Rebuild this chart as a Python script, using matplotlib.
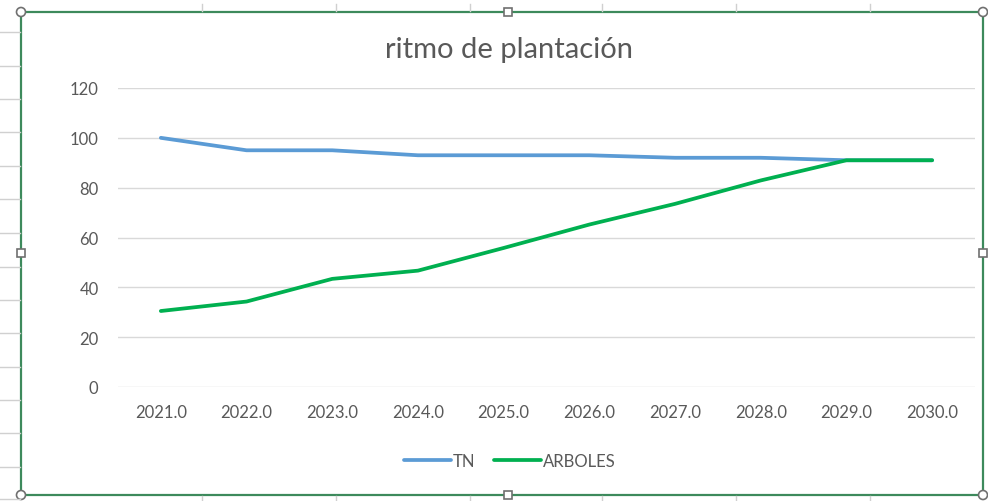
import matplotlib
matplotlib.use("Agg")
import matplotlib.pyplot as plt
from matplotlib.lines import Line2D
from matplotlib.patches import Rectangle, Ellipse

# datos
years = [2021.0, 2022.0, 2023.0, 2024.0, 2025.0, 2026.0, 2027.0, 2028.0, 2029.0, 2030.0]
tn = [100, 95, 95, 93, 93, 93, 92, 92, 91, 91]
arboles = [30.5, 34.3, 43.4, 46.7, 55.8, 65.2, 73.5, 82.9, 91, 91]
yticks = [0, 20, 40, 60, 80, 100, 120]

W, H = 988, 502
plt.rcParams['font.family'] = ['Lato', 'DejaVu Sans']
gray_txt = '#595959'


def px(x, y):
    # pixeles de la imagen -> coordenadas de figura
    return x / W, 1 - y / H


fig = plt.figure(figsize=(W / 100, H / 100), dpi=100)

# lineas de la hoja de calculo detras del grafico
for y in [33, 67, 100, 133, 167, 200, 234, 268, 301, 334, 368, 401, 434, 468, 500]:
    fig.add_artist(Line2D([0, 20 / W], [1 - y / H] * 2, transform=fig.transFigure,
                          color='#d0d0d0', lw=1))
for x in [202, 336, 470, 602, 736, 870]:
    fig.add_artist(Line2D([x / W] * 2, [1 - 12 / H, 1 - 5 / H], transform=fig.transFigure,
                          color='#d0d0d0', lw=1))
    fig.add_artist(Line2D([x / W] * 2, [1 - 497 / H, 0], transform=fig.transFigure,
                          color='#d0d0d0', lw=1))

# ejes
left, right, top, bottom = 118, 975, 89, 388
ax = fig.add_axes([left / W, 1 - bottom / H, (right - left) / W, (bottom - top) / H])
x = list(range(len(years)))
ax.plot(x, tn, color='#5B9BD5', lw=2.7, label='TN', solid_capstyle='round')
ax.plot(x, arboles, color='#00B050', lw=2.7, label='ARBOLES', solid_capstyle='round')
ax.set_xlim(-0.5, len(years) - 0.5)
ax.set_ylim(0, 120)
ax.set_yticks(yticks)
ax.set_xticks(x)
ax.set_xticklabels([f"{y:.1f}" for y in years])
ax.grid(axis='y', color='#d9d9d9', lw=1)
ax.set_axisbelow(True)
for s in ax.spines.values():
    s.set_visible(False)
ax.tick_params(length=0, labelsize=12, colors=gray_txt)
ax.tick_params(axis='x', pad=12)
ax.tick_params(axis='y', pad=14)

fig.text(509 / W, 1 - 50 / H, 'ritmo de plantación', ha='center', va='center',
         fontsize=21, color=gray_txt)

leg = ax.legend(loc='center', bbox_to_anchor=px(510, 462), bbox_transform=fig.transFigure,
                ncol=2, frameon=False, fontsize=12, handlelength=2.8, handletextpad=0.15,
                columnspacing=1.1)
for t in leg.get_texts():
    t.set_color(gray_txt)

# marco verde de seleccion de Excel
fig.add_artist(Rectangle(px(21, 496), (983 - 21) / W, (496 - 13) / H, transform=fig.transFigure,
                         fill=False, edgecolor='#3d8a5c', lw=1.6))
for cx, cy in [(21, 13), (983, 13), (21, 496), (983, 496)]:
    fig.add_artist(Ellipse(px(cx, cy), 9 / W, 9 / H, transform=fig.transFigure,
                           facecolor='white', edgecolor='#707070', lw=1.2))
for cx, cy in [(508, 13), (508, 496), (21, 254), (983, 254)]:
    fig.add_artist(Rectangle(((cx - 4) / W, 1 - (cy + 4) / H), 8 / W, 8 / H,
                             transform=fig.transFigure, facecolor='white',
                             edgecolor='#707070', lw=1.2))

fig.savefig('out.png', dpi=100)
